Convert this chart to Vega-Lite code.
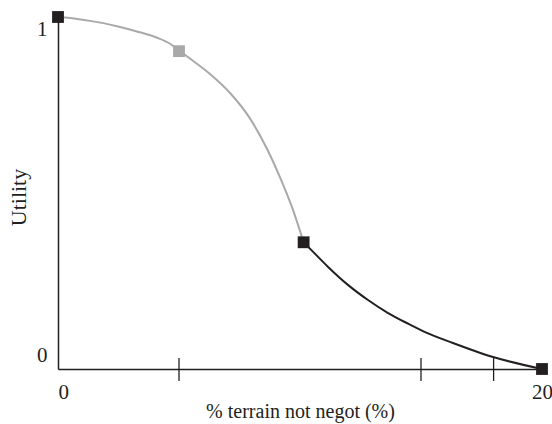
{
  "$schema": "https://vega.github.io/schema/vega-lite/v6.json",
  "width": 484,
  "height": 352,
  "autosize": "none",
  "padding": {"left": 58, "top": 17, "right": 10, "bottom": 55},
  "background": "white",
  "config": {"view": {"stroke": null}, "font": "Liberation Serif",
    "axis": {"labelFont": "Liberation Serif", "titleFont": "Liberation Serif"}},
  "datasets": {
    "curve": [
      {"x": 0, "y": 1.0, "seg": "a"},
      {"x": 0.5, "y": 0.997, "seg": "a"},
      {"x": 1.32, "y": 0.989, "seg": "a"},
      {"x": 2.44, "y": 0.974, "seg": "a"},
      {"x": 3.26, "y": 0.959, "seg": "a"},
      {"x": 4.09, "y": 0.941, "seg": "a"},
      {"x": 4.63, "y": 0.924, "seg": "a"},
      {"x": 5.0, "y": 0.905, "seg": "a"},
      {"x": 5.45, "y": 0.882, "seg": "a"},
      {"x": 6.28, "y": 0.838, "seg": "a"},
      {"x": 7.11, "y": 0.784, "seg": "a"},
      {"x": 7.93, "y": 0.712, "seg": "a"},
      {"x": 8.64, "y": 0.625, "seg": "a"},
      {"x": 9.17, "y": 0.545, "seg": "a"},
      {"x": 9.71, "y": 0.452, "seg": "a"},
      {"x": 10.08, "y": 0.375, "seg": "a"},
      {"x": 10.15, "y": 0.36, "seg": "a"},
      {"x": 10.15, "y": 0.36, "seg": "b"},
      {"x": 10.41, "y": 0.342, "seg": "b"},
      {"x": 11.16, "y": 0.290, "seg": "b"},
      {"x": 11.98, "y": 0.239, "seg": "b"},
      {"x": 12.81, "y": 0.196, "seg": "b"},
      {"x": 13.64, "y": 0.159, "seg": "b"},
      {"x": 14.46, "y": 0.129, "seg": "b"},
      {"x": 15.17, "y": 0.105, "seg": "b"},
      {"x": 16.32, "y": 0.074, "seg": "b"},
      {"x": 17.98, "y": 0.034, "seg": "b"},
      {"x": 20, "y": 0.0, "seg": "b"}
    ],
    "points": [
      {"x": 0, "y": 1.0, "seg": "b"},
      {"x": 5.0, "y": 0.903, "seg": "a"},
      {"x": 10.15, "y": 0.36, "seg": "b"},
      {"x": 20, "y": 0.0, "seg": "b"}
    ],
    "ticks": [
      {"x": 5, "lo": -0.034, "hi": 0.031},
      {"x": 15, "lo": -0.034, "hi": 0.031},
      {"x": 18, "lo": -0.034, "hi": 0.031}
    ]
  },
  "layer": [
    {
      "data": {"name": "ticks"},
      "mark": {"type": "rule", "color": "#231f20", "strokeWidth": 1.3, "clip": false},
      "encoding": {
        "x": {"field": "x", "type": "quantitative", "scale": {"domain": [0, 20]}},
        "y": {"field": "lo", "type": "quantitative", "scale": {"domain": [0, 1]}},
        "y2": {"field": "hi"}
      }
    },
    {
      "data": {"name": "curve"},
      "mark": {"type": "line", "interpolate": "monotone", "strokeWidth": 2},
      "encoding": {
        "x": {"field": "x", "type": "quantitative", "scale": {"domain": [0, 20]},
          "axis": {"values": [0, 20], "ticks": false, "grid": false, "domainColor": "#231f20", "domainWidth": 1.5,
            "labelFont": "Liberation Serif", "labelFontSize": 21, "labelColor": "#231f20", "labelPadding": 23, "labelBaseline": "middle",
            "labelAlign": {"condition": {"test": "datum.value == 0", "value": "left"}, "value": "center"},
            "labelFlush": false, "labelExpr": "datum.value",
            "title": "% terrain not negot (%)", "titleFont": "Liberation Serif", "titleFontSize": 20, "titleFontWeight": "normal", "titleColor": "#231f20",
            "titleBaseline": "middle", "titleY": 42}},
        "y": {"field": "y", "type": "quantitative", "scale": {"domain": [0, 1]},
          "axis": {"values": [0, 1], "ticks": false, "grid": false, "domainColor": "#231f20", "domainWidth": 1.5,
            "labelFont": "Liberation Serif", "labelFontSize": 21, "labelColor": "#231f20", "labelPadding": 11, "labelBaseline": "middle",
            "labelOffset": {"condition": {"test": "datum.value == 0", "value": -14}, "value": 12},
            "labelFlush": false, "labelExpr": "datum.value",
            "title": "Utility", "titleFont": "Liberation Serif", "titleFontSize": 22, "titleFontWeight": "normal", "titleColor": "#231f20",
            "titleBaseline": "middle", "titleX": -40, "titleY": 180}},
        "color": {"field": "seg", "type": "nominal", "scale": {"domain": ["a", "b"], "range": ["#a9a9a9", "#231f20"]}, "legend": null}
      }
    },
    {
      "data": {"name": "points"},
      "mark": {"type": "square", "size": 140, "opacity": 1, "filled": true, "clip": false},
      "encoding": {
        "x": {"field": "x", "type": "quantitative"},
        "y": {"field": "y", "type": "quantitative"},
        "color": {"field": "seg", "type": "nominal", "legend": null}
      }
    }
  ]
}
